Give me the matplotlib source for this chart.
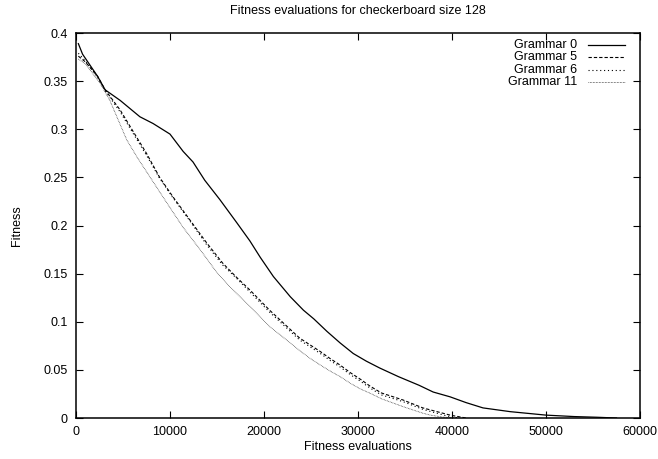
import matplotlib
matplotlib.use("Agg")
import matplotlib.pyplot as plt

plt.rcParams['font.family'] = ['Liberation Sans', 'DejaVu Sans']
plt.rcParams['font.size'] = 9

# fitness curves, one per grammar
g0_x = [250, 700, 2300, 3100, 4700, 6800, 8200, 10000, 11400, 12450, 13700, 15300,
        17100, 18500, 19600, 21000, 22800, 24200, 25300, 26700, 28100, 29500, 30900,
        32300, 34300, 36500, 38000, 39800, 41500, 43300, 46200, 50000, 53000, 55400, 57500]
g0_y = [0.389, 0.378, 0.355, 0.341, 0.330, 0.313, 0.306, 0.295, 0.277, 0.266, 0.247,
        0.227, 0.203, 0.184, 0.167, 0.147, 0.126, 0.112, 0.103, 0.090, 0.078, 0.067,
        0.059, 0.052, 0.043, 0.034, 0.027, 0.022, 0.016, 0.0105, 0.0066, 0.003, 0.0015,
        0.0008, 0.0]

g5_x = [250, 1000, 2300, 3100, 4700, 6000, 7500, 8900, 10300, 12100, 13900, 15600,
        17100, 18500, 20600, 22800, 23800, 24900, 26000, 27000, 28100, 29200, 30300,
        31300, 32500, 34800, 36900, 39800, 41500]
g5_y = [0.376, 0.370, 0.355, 0.341, 0.320, 0.299, 0.275, 0.250, 0.230, 0.206, 0.182,
        0.161, 0.146, 0.133, 0.112, 0.092, 0.083, 0.076, 0.069, 0.062, 0.055, 0.047,
        0.040, 0.033, 0.026, 0.0187, 0.0105, 0.003, 0.0]

g6_x = [250, 1000, 2300, 3100, 4700, 6000, 7500, 8900, 10300, 12100, 13900, 15600,
        17100, 18500, 20600, 22800, 23800, 24900, 26000, 27000, 28100, 29200, 30300,
        31300, 32500, 34800, 36900, 39500, 40800]
g6_y = [0.379, 0.371, 0.354, 0.340, 0.318, 0.297, 0.273, 0.249, 0.229, 0.205, 0.180,
        0.159, 0.145, 0.131, 0.110, 0.090, 0.081, 0.074, 0.067, 0.060, 0.053, 0.045,
        0.038, 0.031, 0.024, 0.017, 0.009, 0.002, 0.0]

g11_x = [250, 1000, 2550, 3600, 5400, 6500, 7900, 9700, 11400, 13200, 15000, 16400,
         18500, 20600, 22800, 23800, 24900, 26000, 27000, 28100, 29200, 30300, 31300,
         32500, 34800, 36900, 37700, 39000, 40500]
g11_y = [0.373, 0.368, 0.348, 0.330, 0.289, 0.271, 0.250, 0.223, 0.198, 0.175, 0.151,
         0.136, 0.116, 0.095, 0.078, 0.070, 0.062, 0.055, 0.049, 0.043, 0.036, 0.030,
         0.0257, 0.020, 0.0118, 0.005, 0.003, 0.001, 0.0]

labels = ["Grammar 0", "Grammar 5", "Grammar 6", "Grammar 11"]
x_ticks = [0, 10000, 20000, 30000, 40000, 50000, 60000]
y_ticks = [0, 0.05, 0.1, 0.15, 0.2, 0.25, 0.3, 0.35, 0.4]
y_ticklabels = ["0", "0.05", "0.1", "0.15", "0.2", "0.25", "0.3", "0.35", "0.4"]

styles = [
    dict(linestyle="-", linewidth=0.9, color="black"),
    dict(linestyle=(0, (3, 1.8)), linewidth=0.8, color="black"),
    dict(linestyle=(0, (1, 2.5)), linewidth=0.8, color="black"),
    dict(linestyle=(0, (0.8, 1.0)), linewidth=0.6, color="#333333"),
]

fig = plt.figure(figsize=(6.58, 4.59), dpi=100)
ax = fig.add_axes([0.1155, 0.0893, 0.8571, 0.8387])

series = [(g0_x, g0_y), (g5_x, g5_y), (g6_x, g6_y), (g11_x, g11_y)]
for (xs, ys), st in zip(series, styles):
    ax.plot(xs, ys, **st)

ax.set_xlim(0, 60000)
ax.set_ylim(0, 0.4)
ax.set_xticks(x_ticks)
ax.set_xticklabels([str(t) for t in x_ticks])
ax.set_yticks(y_ticks)
ax.set_yticklabels(y_ticklabels)
ax.tick_params(direction="in", length=5, width=0.8, top=True, right=True, pad=6)
for sp in ax.spines.values():
    sp.set_linewidth(1.1)

ax.set_title("Fitness evaluations for checkerboard size 128", fontsize=9, pad=14)
ax.set_xlabel("Fitness evaluations", labelpad=2)
ax.set_ylabel("Fitness", labelpad=15)

# gnuplot-style key: right-aligned text, sample line to its right
for i, (lab, st) in enumerate(zip(labels, styles)):
    yk = 0.969 - i * 0.032
    ax.text(0.888, yk, lab, transform=ax.transAxes, ha="right", va="center")
    ax.plot([0.908, 0.973], [yk, yk], transform=ax.transAxes, **st)

fig.savefig("out.png", dpi=100)
